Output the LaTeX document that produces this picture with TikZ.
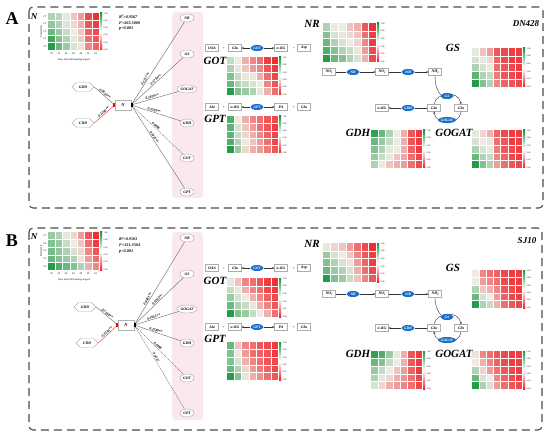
\documentclass[tikz,border=0pt]{standalone}
\usepackage{fontspec}
\setmainfont{Liberation Serif}
\usetikzlibrary{shapes.geometric,shapes.symbols,arrows.meta,calc}
\definecolor{hmg}{RGB}{22,150,62}
\definecolor{hmr}{RGB}{238,32,38}
\definecolor{hmmid}{RGB}{238,235,228}
\definecolor{enzblue}{RGB}{28,110,205}
\definecolor{bandpink}{RGB}{251,232,236}
\definecolor{framegray}{RGB}{75,75,75}
\newcommand\hmcolor[1]{\pgfmathtruncatemacro\hmval{#1}\pgfmathtruncatemacro\hmabs{100*(abs(\hmval)/100)^1.35}\ifnum\hmval>0 \colorlet{hmc}{hmg!\hmabs!hmmid}\else\colorlet{hmc}{hmr!\hmabs!hmmid}\fi}
\newcommand\hmap[5]{%
 \pgfmathsetmacro\hmcw{(#3-#1)/7}%
 \pgfmathsetmacro\hmch{(#4-#2)/5}%
 \foreach \hmrow [count=\hmr from 0] in {#5}{%
  \foreach \hmv [count=\hmcc from 0] in \hmrow{%
   \hmcolor{\hmv}%
   \fill[hmc] ({#1+\hmcc*\hmcw},{#2+\hmr*\hmch}) rectangle ++(\hmcw,\hmch);
  }}
 \foreach \k in {1,...,6} \draw[white,line width=0.35pt] ({#1+\k*\hmcw},#2) -- ({#1+\k*\hmcw},#4);
 \foreach \k in {1,...,4} \draw[white,line width=0.35pt] (#1,{#2+\k*\hmch}) -- (#3,{#2+\k*\hmch});
 \shade[top color=hmg,bottom color=hmr,middle color=white] ({#3+1.2},#2) rectangle ({#3+3},#4);
 \foreach \tl [count=\i from 0] in {1.00,0.80,0.60,0.40,0.20,0.00}
   \node[cbl] at ({#3+4.5},{#2+0.5+\i*(#4-#2-1)/5}) {\tl};
}
\newcommand\ion[3]{#1\rlap{\raisebox{1.3pt}{\fontsize{2.4}{2}\selectfont #3}}\raisebox{-0.7pt}{\fontsize{2.4}{2}\selectfont #2}}
\newcommand\sqd{\raisebox{1.4pt}{\fontsize{2.8}{2}\selectfont 2}}
\tikzset{
 cbl/.style={font=\fontsize{2.2}{2.4}\selectfont,anchor=west,inner sep=0pt},
 tiny/.style={font=\fontsize{2.6}{3}\selectfont,inner sep=0pt},
 pel/.style={ellipse,draw=gray!70,fill=white,font=\fontsize{3.8}{4}\selectfont\bfseries\itshape,minimum width=14pt,minimum height=8pt,inner sep=0.4pt},
 bx/.style={rectangle,draw=gray!65,fill=white,font=\fontsize{3.8}{4}\selectfont\bfseries\itshape,minimum width=13pt,minimum height=7pt,inner sep=0.8pt},
 enz/.style={ellipse,fill=enzblue,text=white,font=\fontsize{3.6}{4}\selectfont\bfseries\itshape,minimum width=13pt,minimum height=6pt,inner sep=0.3pt},
 hexa/.style={signal,signal to=west and east,draw=gray!60,fill=white,font=\fontsize{3.8}{4}\selectfont\bfseries\itshape,minimum width=22pt,minimum height=9pt,inner sep=0.5pt},
 nbox/.style={rectangle,draw=gray!60,fill=white,font=\fontsize{4.4}{5}\selectfont\bfseries\itshape,minimum width=16pt,minimum height=8pt},
 big/.style={font=\fontsize{11}{12}\selectfont\bfseries\itshape,inner sep=0pt},
 panel/.style={font=\fontsize{18}{20}\selectfont\bfseries,inner sep=0pt},
 stat/.style={font=\fontsize{4.2}{5}\selectfont\bfseries\itshape,anchor=west,inner sep=0pt},
 elab/.style={font=\fontsize{3.6}{4}\selectfont\bfseries\itshape,inner sep=0.6pt,sloped,above},
 edge/.style={draw=gray!70!black,line width=0.35pt},
 nedge/.style={draw=red!80,line width=0.45pt},
 dedge/.style={draw=gray!70!black,line width=0.35pt,dash pattern=on 1.2pt off 0.8pt},
 rx/.style={draw=black!80,line width=0.4pt},
 rxa/.style={draw=black!80,line width=0.4pt,-{Stealth[length=2pt,width=2pt]}},
 frame/.style={draw=framegray,line width=1.1pt,dash pattern=on 8pt off 5pt,rounded corners=4pt},
 plus/.style={font=\fontsize{3.6}{4}\selectfont,inner sep=0pt},
}
\begin{document}
\begin{tikzpicture}[x=1pt,y=-1pt]
\useasboundingbox (0,0) rectangle (550,436);
% ================= PANEL A =================
\draw[frame] (29,7) rectangle (543,208);
\node[panel] (labA) at (12,19) {A};
\fill[bandpink,rounded corners=3pt] (172,12) rectangle (203,198);
% N heatmap
\hmap{48}{13}{99}{50}{{40,35,10,-30,-50,-85,-95},{55,40,15,-20,-40,-80,-90},{70,50,30,0,-30,-75,-85},{85,60,40,10,-25,-70,-80},{95,70,50,20,-10,-60,-75}}
\node[big,font=\fontsize{9}{10}\selectfont\bfseries\itshape] (hNa) at (34,17) {N};
\foreach \rl [count=\i from 0] in {C7,C5,C3,C1,C0} \node[tiny,anchor=east] at (46.5,{13+3.7+\i*7.4}) {\rl};
\node[tiny,rotate=90] (trA) at (41,31.5) {Treatments};
\foreach \xl [count=\i from 0] in {18,22,24,26,28,30,34} \node[tiny] at ({48+3.6+\i*7.3},54) {\xl};
\node[tiny] (daA) at (74,60) {Days after full heading stage/d};
\node[stat] (s1a) at (119,16.5) {R\sqd=0.9567};
\node[stat] (s2a) at (119,22.8) {F=265.3000};
\node[stat] (s3a) at (119,29) {p<0.001};
% network
\node[nbox] (Na) at (123,105) {N};
\node[hexa] (GDDa) at (83,87) {GDD};
\node[hexa] (CDDa) at (83,123) {CDD};
\node[pel] (NRa) at (187,18) {NR};
\node[pel] (GSa) at (187,54) {GS};
\node[pel,minimum width=20pt] (GOGATa) at (187,89) {GOGAT};
\node[pel] (GDHa) at (187,123) {GDH};
\node[pel] (GOTa) at (187,158) {GOT};
\node[pel] (GPTa) at (187,192) {GPT};
\draw[edge] (GDDa.east) -- node[elab,pos=0.45]{0.3810**} (Na.west);
\draw[nedge] (CDDa.east) -- node[elab,pos=0.5]{-0.1248**} (Na.west);
\draw[edge] (Na.east) -- node[elab,pos=0.3]{0.1217**} (NRa);
\draw[edge] (Na.east) -- node[elab,pos=0.5]{0.1756**} (GSa);
\draw[edge] (Na.east) -- node[elab,pos=0.45]{0.2870**} (GOGATa);
\draw[edge] (Na.east) -- node[elab,pos=0.45]{0.2583**} (GDHa);
\draw[dedge] (Na.east) -- node[elab,pos=0.45]{0.0096} (GOTa);
\draw[edge] (Na.east) -- node[elab,pos=0.4]{0.1425**} (GPTa);
\fill[red] ([xshift=-1.6pt,yshift=-1.6pt]Na.west) rectangle ([yshift=1.6pt]Na.west);
\fill[black] ([yshift=-2.4pt]Na.east) rectangle ([xshift=1.8pt,yshift=2.4pt]Na.east);
% GOT reaction
\node[bx] (OAAa) at (212,48) {OAA};
\node[plus] (p1a) at (224,48) {+};
\node[bx] (Glu1a) at (235,48) {Glu};
\node[enz] (GOTea) at (257,48) {GOT};
\node[bx] (akg1a) at (281,48) {α-KG};
\node[plus] (p2a) at (294,48) {+};
\node[bx] (Aspa) at (304,48) {Asp};
\draw[rxa] (GOTea.west) -- (Glu1a.east);
\draw[rxa] (GOTea.east) -- (akg1a.west);
\node[big] (lGOTa) at (215,61) {GOT};
\hmap{227}{57}{278}{95}{{30,5,-40,-60,-70,-90,-95},{40,10,-30,-50,-60,-80,-90},{60,30,-10,10,-40,-70,-85},{70,40,30,20,0,-60,-80},{95,60,50,40,10,-40,-70}}
% GPT reaction
\node[bx] (Alaa) at (212,107) {Ala};
\node[plus] (p3a) at (224,107) {+};
\node[bx] (akg2a) at (235,107) {α-KG};
\node[enz] (GPTea) at (257,107) {GPT};
\node[bx] (PAa) at (281,107) {PA};
\node[plus] (p4a) at (294,107) {+};
\node[bx] (Glu2a) at (304,107) {Glu};
\draw[rxa] (GPTea.west) -- (akg2a.east);
\draw[rxa] (GPTea.east) -- (PAa.west);
\node[big] (lGPTa) at (215,119) {GPT};
\hmap{227}{116}{278}{153}{{80,5,-40,-60,-70,-80,-85},{75,20,-30,-50,-70,-80,-90},{75,30,-20,-40,-60,-75,-85},{80,40,5,-30,-50,-70,-85},{95,50,-20,-40,-50,-65,-80}}
% NR etc
\node[big] (lNRa) at (312,24) {NR};
\hmap{323}{23}{376}{62}{{40,5,0,-30,-40,-80,-95},{60,20,10,-20,-30,-70,-90},{70,40,20,0,-20,-60,-90},{80,60,40,30,10,-50,-85},{95,70,60,40,20,-40,-85}}
\node[big,font=\fontsize{9}{10}\selectfont\bfseries\itshape] (cvA) at (526,24) {DN428};
\node[big] (lGSa) at (453,48) {GS};
\hmap{472}{48}{522}{87}{{10,-30,-50,-80,-85,-90,-90},{20,10,-20,-75,-85,-90,-90},{40,20,5,-70,-80,-85,-90},{75,40,30,-65,-80,-85,-90},{95,60,40,-60,-75,-80,-85}}
\node[bx] (NO3a) at (329,72) {\ion{NO}{3}{−}};
\node[enz] (NRea) at (353,72) {NR};
\node[bx] (NO2a) at (382,72) {\ion{NO}{2}{−}};
\node[enz] (NiRa) at (408,72) {NiR};
\node[bx] (NH4a) at (435,72) {\ion{NH}{4}{+}};
\draw[rx] (NO3a.east) -- (NRea.west);
\draw[rxa] (NRea.east) -- (NO2a.west);
\draw[rx] (NO2a.east) -- (NiRa.west);
\draw[rxa] (NiRa.east) -- (NH4a.west);
\node[bx] (akg3a) at (382,108) {α-KG};
\node[bx] (Glu3a) at (434,108) {Glu};
\node[bx] (Glna) at (461,108) {Gln};
\node[enz] (GDHea) at (408,108) {GDH};
\draw[rx] (Glu3a.west) -- (GDHea.east);
\draw[rxa] (GDHea.west) -- (akg3a.east);
\draw[rxa] (Glu3a.north) .. controls (436,92) and (459,90) .. (Glna.north);
\draw[rx] (NH4a.south) .. controls (435,86) and (438,92) .. (441,95);
\node[enz] (GSea) at (447,96) {GS};
\draw[rxa] (Glna.south) .. controls (459,126) and (436,126) .. (Glu3a.south);
\node[enz,minimum width=15pt] (GOGATea) at (447,120) {GOGAT};
\node[big] (lGDHa) at (358,133) {GDH};
\hmap{371}{130}{422}{168}{{90,70,40,5,-40,-80,-90},{70,50,30,0,-40,-80,-90},{60,40,10,0,-40,-75,-90},{50,30,10,-30,-45,-70,-85},{40,5,-30,-40,-50,-70,-85}}
\node[big] (lGOGATa) at (454,133) {GOGAT};
\hmap{472}{130}{522}{168}{{10,-20,-40,-75,-85,-90,-90},{20,5,-10,-70,-80,-90,-90},{40,20,10,-65,-80,-85,-90},{70,40,30,-60,-75,-85,-90},{95,60,40,-50,-70,-80,-85}}
% ================= PANEL B =================
\draw[frame] (29,228) rectangle (542,430);
\node[panel] (labB) at (12,241) {B};
\fill[bandpink,rounded corners=3pt] (172,232) rectangle (203,420);
\hmap{48}{232}{99}{270}{{50,40,10,-20,-50,-80,-95},{60,50,30,5,-30,-70,-90},{65,55,40,20,-20,-60,-80},{70,60,50,40,-10,-50,-70},{95,80,70,60,40,-40,-60}}
\node[big,font=\fontsize{9}{10}\selectfont\bfseries\itshape] (hNb) at (34,237) {N};
\foreach \rl [count=\i from 0] in {C7,C5,C3,C1,C0} \node[tiny,anchor=east] at (46.5,{232+3.8+\i*7.6}) {\rl};
\node[tiny,rotate=90] (trB) at (41,251) {Treatments};
\foreach \xl [count=\i from 0] in {18,22,24,26,28,30,34} \node[tiny] at ({48+3.6+\i*7.3},274) {\xl};
\node[tiny] (daB) at (74,280) {Days after full heading stage/d};
\node[stat] (s1b) at (119,239) {R\sqd=0.9163};
\node[stat] (s2b) at (119,245.5) {F=131.3504};
\node[stat] (s3b) at (119,252) {p<0.001};
\node[nbox] (Nb) at (126,325) {N};
\node[hexa] (GDDb) at (85,307) {GDD};
\node[hexa] (CDDb) at (87,343) {CDD};
\node[pel] (NRb) at (187,238) {NR};
\node[pel] (GSb) at (187,274) {GS};
\node[pel,minimum width=20pt] (GOGATb) at (187,309) {GOGAT};
\node[pel] (GDHb) at (187,343) {GDH};
\node[pel] (GOTb) at (187,378) {GOT};
\node[pel] (GPTb) at (187,413) {GPT};
\draw[edge] (GDDb.east) -- node[elab,pos=0.45]{0.2164**} (Nb.west);
\draw[nedge] (CDDb.east) -- node[elab,pos=0.5]{-0.2236**} (Nb.west);
\draw[edge] (Nb.east) -- node[elab,pos=0.3]{0.4481**} (NRb);
\draw[edge] (Nb.east) -- node[elab,pos=0.5]{0.0782**} (GSb);
\draw[edge] (Nb.east) -- node[elab,pos=0.45]{0.1661**} (GOGATb);
\draw[edge] (Nb.east) -- node[elab,pos=0.45]{0.2580**} (GDHb);
\draw[dedge] (Nb.east) -- node[elab,pos=0.45]{0.0188} (GOTb);
\draw[dedge] (Nb.east) -- node[elab,pos=0.4]{0.0517} (GPTb);
\fill[red] ([xshift=-1.6pt,yshift=-1.6pt]Nb.west) rectangle ([yshift=1.6pt]Nb.west);
\fill[black] ([yshift=-2.4pt]Nb.east) rectangle ([xshift=1.8pt,yshift=2.4pt]Nb.east);
\node[bx] (OAAb) at (212,268) {OAA};
\node[plus] (p1b) at (224,268) {+};
\node[bx] (Glu1b) at (235,268) {Glu};
\node[enz] (GOTeb) at (257,268) {GOT};
\node[bx] (akg1b) at (281,268) {α-KG};
\node[plus] (p2b) at (294,268) {+};
\node[bx] (Aspb) at (304,268) {Asp};
\draw[rxa] (GOTeb.west) -- (Glu1b.east);
\draw[rxa] (GOTeb.east) -- (akg1b.west);
\node[big] (lGOTb) at (215,281) {GOT};
\hmap{227}{278}{278}{317}{{10,-30,-60,-70,-80,-90,-95},{30,10,-40,-60,-70,-85,-90},{50,20,0,-40,-60,-75,-85},{70,40,30,10,-40,-60,-80},{95,60,50,30,0,-40,-70}}
\node[bx] (Alab) at (212,327) {Ala};
\node[plus] (p3b) at (224,327) {+};
\node[bx] (akg2b) at (235,327) {α-KG};
\node[enz] (GPTeb) at (257,327) {GPT};
\node[bx] (PAb) at (281,327) {PA};
\node[plus] (p4b) at (294,327) {+};
\node[bx] (Glu2b) at (304,327) {Glu};
\draw[rxa] (GPTeb.west) -- (akg2b.east);
\draw[rxa] (GPTeb.east) -- (PAb.west);
\node[big] (lGPTb) at (215,339) {GPT};
\hmap{227}{342}{278}{380}{{70,-30,-60,-70,-80,-85,-90},{60,5,-50,-70,-75,-80,-90},{60,20,-40,-60,-70,-80,-85},{70,40,-20,-50,-65,-75,-85},{95,60,-10,-40,-55,-70,-80}}
\node[big] (lNRb) at (312,244) {NR};
\hmap{323}{243}{376}{282}{{10,-20,-30,-50,-70,-85,-95},{50,20,0,-30,-60,-80,-90},{60,40,20,-10,-50,-75,-90},{70,50,40,20,-40,-70,-85},{95,60,50,30,-30,-60,-80}}
\node[big,font=\fontsize{9}{10}\selectfont\bfseries\itshape] (cvB) at (527,241) {SJ10};
\node[big] (lGSb) at (453,268) {GS};
\hmap{472}{270}{522}{308}{{5,-60,-70,-75,-85,-90,-90},{0,-50,-60,-70,-85,-90,-90},{40,-30,-40,-60,-80,-85,-90},{70,20,0,-50,-75,-85,-90},{95,40,30,-40,-70,-80,-85}}
\node[bx] (NO3b) at (329,294) {\ion{NO}{3}{−}};
\node[enz] (NReb) at (353,294) {NR};
\node[bx] (NO2b) at (382,294) {\ion{NO}{2}{−}};
\node[enz] (NiRb) at (408,294) {NiR};
\node[bx] (NH4b) at (435,294) {\ion{NH}{4}{+}};
\draw[rx] (NO3b.east) -- (NReb.west);
\draw[rxa] (NReb.east) -- (NO2b.west);
\draw[rx] (NO2b.east) -- (NiRb.west);
\draw[rxa] (NiRb.east) -- (NH4b.west);
\node[bx] (akg3b) at (382,328) {α-KG};
\node[bx] (Glu3b) at (434,328) {Glu};
\node[bx] (Glnb) at (461,328) {Gln};
\node[enz] (GDHeb) at (408,328) {GDH};
\draw[rx] (Glu3b.west) -- (GDHeb.east);
\draw[rxa] (GDHeb.west) -- (akg3b.east);
\draw[rxa] (Glu3b.north) .. controls (436,312) and (459,310) .. (Glnb.north);
\draw[rx] (NH4b.south) .. controls (435,306) and (438,312) .. (441,315);
\node[enz] (GSeb) at (447,317) {GS};
\draw[rxa] (Glnb.south) .. controls (459,346) and (436,346) .. (Glu3b.south);
\node[enz,minimum width=15pt] (GOGATeb) at (447,340) {GOGAT};
\node[big] (lGDHb) at (358,354) {GDH};
\hmap{371}{351}{422}{389}{{90,80,50,10,-40,-80,-90},{70,60,30,0,-40,-80,-90},{50,30,0,-30,-50,-75,-90},{40,10,-20,-40,-55,-70,-85},{20,-20,-40,-50,-60,-70,-85}}
\node[big] (lGOGATb) at (454,354) {GOGAT};
\hmap{472}{351}{522}{389}{{-10,-60,-70,-80,-85,-90,-90},{0,-40,-60,-75,-85,-90,-90},{40,-20,-50,-70,-80,-85,-90},{70,20,0,-60,-75,-85,-90},{95,40,20,-50,-70,-80,-85}}
\end{tikzpicture}
\end{document}
